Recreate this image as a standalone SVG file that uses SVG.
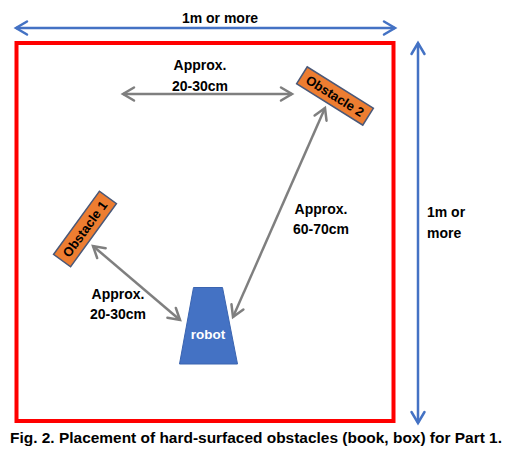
<svg xmlns="http://www.w3.org/2000/svg" width="527" height="473" viewBox="0 0 527 473">
<style>
text{font-family:"Liberation Sans",Arial,sans-serif;font-weight:bold;fill:#000;}
.lbl{font-size:14px;text-anchor:middle;}
.blue{stroke:#4472C4;stroke-width:2.5;fill:none;}
.grey{stroke:#7F7F7F;stroke-width:2.5;fill:none;}
.obs{fill:#ED7D31;stroke:#4A5878;stroke-width:1.5;}
.obst{font-size:13px;text-anchor:middle;}
</style>
<defs>
<marker id="ab" markerUnits="userSpaceOnUse" markerWidth="18" markerHeight="18" viewBox="-14 -9 18 18" refX="0" refY="0" orient="auto-start-reverse">
<path d="M-11,-6.5 L0,0 L-11,6.5" fill="none" stroke="#4472C4" stroke-width="2.5" stroke-linecap="round" stroke-linejoin="miter"/>
</marker>
<marker id="ag" markerUnits="userSpaceOnUse" markerWidth="18" markerHeight="18" viewBox="-14 -9 18 18" refX="0" refY="0" orient="auto-start-reverse">
<path d="M-11,-6.5 L0,0 L-11,6.5" fill="none" stroke="#7F7F7F" stroke-width="2.5" stroke-linecap="round" stroke-linejoin="miter"/>
</marker>
</defs>
<rect id="arena" x="16.5" y="43" width="377" height="378" fill="none" stroke="#FF0000" stroke-width="4"/>
<g id="connectors">
<line class="blue" x1="16" y1="28" x2="395" y2="28" marker-start="url(#ab)" marker-end="url(#ab)"/>
<line class="blue" x1="418" y1="43" x2="418" y2="423" marker-start="url(#ab)" marker-end="url(#ab)"/>
<line class="grey" x1="123" y1="94" x2="292" y2="94" marker-start="url(#ag)" marker-end="url(#ag)"/>
<line class="grey" x1="93" y1="246" x2="180" y2="320" marker-start="url(#ag)" marker-end="url(#ag)"/>
<line class="grey" x1="233" y1="317" x2="325" y2="108" marker-start="url(#ag)" marker-end="url(#ag)"/>
</g>
<g id="labels">
<text class="lbl" x="220" y="23">1m or more</text>
<text x="427" y="217" font-size="14">1m or</text>
<text x="427" y="238" font-size="14">more</text>
<text class="lbl" x="200" y="70">Approx.</text>
<text class="lbl" x="200" y="91">20-30cm</text>
<text class="lbl" x="321" y="214">Approx.</text>
<text class="lbl" x="321" y="234">60-70cm</text>
<text class="lbl" x="118" y="299">Approx.</text>
<text class="lbl" x="118" y="319">20-30cm</text>
</g>
<g id="obstacle1" transform="translate(85,229) rotate(-54)">
<rect class="obs" x="-39" y="-10.5" width="78" height="21"/>
<text class="obst" x="0" y="4.5">Obstacle 1</text>
</g>
<g id="obstacle2" transform="translate(335,96) rotate(32)">
<rect class="obs" x="-39" y="-10" width="78" height="20"/>
<text class="obst" x="0" y="4.5">Obstacle 2</text>
</g>
<g id="robot">
<polygon points="193.5,287.5 222.5,287.5 237.5,364 179.5,364" fill="#4472C4" stroke="#3A64B0" stroke-width="1"/>
<text x="208" y="339" font-size="13.5" text-anchor="middle" style="fill:#fff">robot</text>
</g>
<text id="caption" x="10" y="443" font-size="14.5" textLength="492" lengthAdjust="spacingAndGlyphs">Fig. 2. Placement of hard-surfaced obstacles (book, box) for Part 1.</text>
</svg>
